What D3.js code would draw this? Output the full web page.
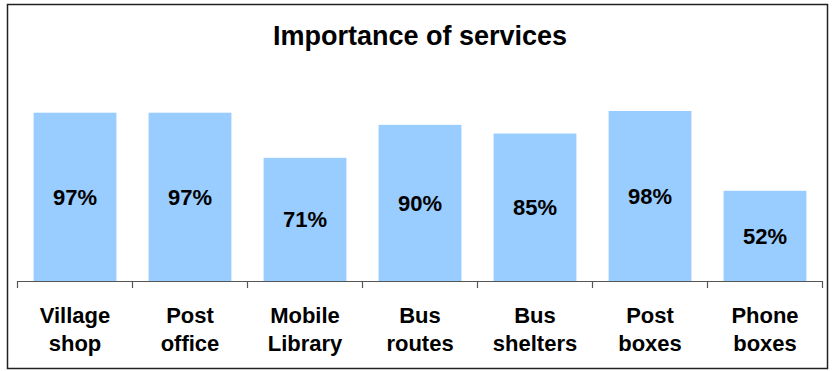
<!DOCTYPE html>
<html>
<head>
<meta charset="utf-8">
<script src="https://cdn.jsdelivr.net/npm/d3@7"></script>
<style>
  html, body { margin: 0; padding: 0; background: #fff; }
  svg { display: block; }
  text { font-family: "Liberation Sans", Arial, sans-serif; font-weight: bold; fill: #000; }
</style>
</head>
<body>
<svg id="chart" width="832" height="371"></svg>
<script>
// Service names (two lines each) and share of people rating them important
const categories = [
  ["Village", "shop"],
  ["Post", "office"],
  ["Mobile", "Library"],
  ["Bus", "routes"],
  ["Bus", "shelters"],
  ["Post", "boxes"],
  ["Phone", "boxes"]
];
const values = [97, 97, 71, 90, 85, 98, 52];
const title = "Importance of services";

const svg = d3.select("#chart");

// Outer frame
svg.append("rect")
  .attr("x", 7.5).attr("y", 4.5)
  .attr("width", 820).attr("height", 364)
  .attr("fill", "#fff")
  .attr("stroke", "#222")
  .attr("stroke-width", 1.5);

svg.append("text")
  .attr("x", 420).attr("y", 45)
  .attr("text-anchor", "middle")
  .style("font-size", "27px")
  .text(title);

const pad = 0.28;
const x = d3.scaleBand()
  .domain(d3.range(categories.length))
  .range([17.5, 822.5])
  .paddingInner(pad)
  .paddingOuter(pad / 2);

const y = d3.scaleLinear().domain([0, 100]).range([281, 107.5]);

// Bars
svg.append("g").selectAll("rect")
  .data(values)
  .join("rect")
  .attr("x", (d, i) => x(i))
  .attr("y", d => y(d))
  .attr("width", x.bandwidth())
  .attr("height", d => y(0) - y(d))
  .attr("fill", "#99CCFF");

// Value labels centred in each bar
svg.append("g").selectAll("text")
  .data(values)
  .join("text")
  .attr("x", (d, i) => x(i) + x.bandwidth() / 2)
  .attr("y", d => (y(d) + y(0)) / 2)
  .attr("dy", "0.36em")
  .attr("text-anchor", "middle")
  .style("font-size", "22px")
  .text(d => d + "%");

// Category axis: baseline with ticks at the band boundaries
const step = x.step();
const bounds = d3.range(categories.length + 1).map(i =>
  i < categories.length ? x(i) - step * pad / 2 : x(i - 1) + x.bandwidth() + step * pad / 2);

const axis = svg.append("g");
axis.append("line")
  .attr("x1", bounds[0]).attr("x2", bounds[bounds.length - 1])
  .attr("y1", y(0) + 0.5).attr("y2", y(0) + 0.5)
  .attr("stroke", "#555").attr("stroke-width", 1.2);
axis.selectAll("line.tick")
  .data(bounds)
  .join("line")
  .attr("class", "tick")
  .attr("x1", d => d).attr("x2", d => d)
  .attr("y1", y(0)).attr("y2", y(0) + 7)
  .attr("stroke", "#555").attr("stroke-width", 1.2);

// Two-line category labels
const labels = axis.selectAll("text.cat")
  .data(categories)
  .join("text")
  .attr("class", "cat")
  .attr("text-anchor", "middle")
  .style("font-size", "22px");
labels.selectAll("tspan")
  .data((d, i) => d.map(s => ({ s, i })))
  .join("tspan")
  .attr("x", d => x(d.i) + x.bandwidth() / 2)
  .attr("y", (d, j) => 323 + j * 28)
  .text(d => d.s);
</script>
</body>
</html>
